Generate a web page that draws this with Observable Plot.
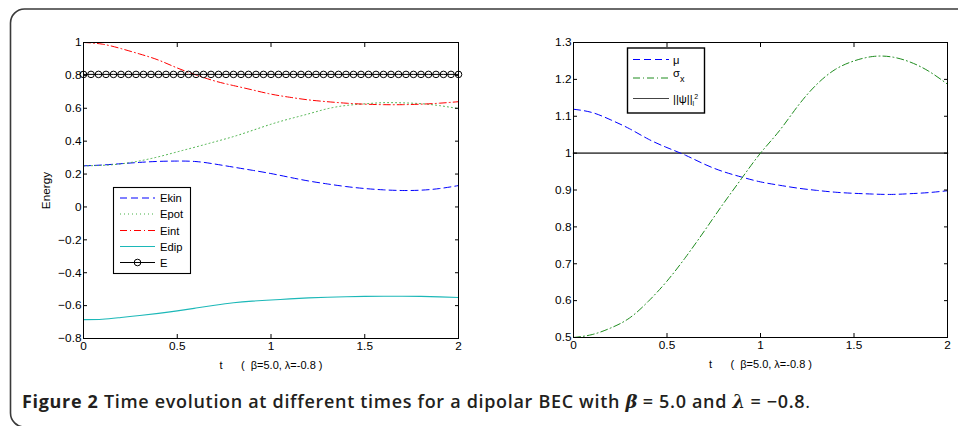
<!DOCTYPE html>
<html><head><meta charset="utf-8">
<script src="https://cdn.jsdelivr.net/npm/d3@7"></script>
<script src="https://cdn.jsdelivr.net/npm/@observablehq/plot@0.6"></script>
<style>
body{margin:0;background:#fff;}
#wrap{position:relative;width:958px;height:426px;overflow:hidden;background:#fff;}
#border{position:absolute;left:0;top:0;}
.panel{position:absolute;top:0;}
#caption{position:absolute;left:22px;top:389px;font-family:"Open Sans",sans-serif;font-size:18px;letter-spacing:0.68px;font-weight:600;color:#231f20;white-space:nowrap;line-height:normal;}
#caption b{font-weight:700;}
#caption i{font-family:"DejaVu Serif",serif;font-style:italic;font-weight:600;letter-spacing:0;}
</style></head><body>
<div id="wrap">
<svg id="border" width="958" height="426"><rect x="10.5" y="9" width="1000" height="418" rx="14" ry="14" fill="none" stroke="#3a3a3a" stroke-width="1.6"/></svg>
<div id="left" class="panel" style="left:0px"></div>
<div id="right" class="panel" style="left:480px"></div>
<div id="caption"><b>Figure 2</b> Time evolution at different times for a dipolar BEC with <i>β</i> = 5.0 and <i>λ</i> = −0.8<span style="font-weight:400">.</span></div>
</div>
<script>
// ---------- data ----------
const t     = [0,0.1,0.2,0.3,0.4,0.5,0.6,0.7,0.8,0.9,1.0,1.1,1.2,1.3,1.4,1.5,1.6,1.7,1.8,1.9,2.0];
const ekin  = [0.25,0.255,0.263,0.271,0.277,0.279,0.276,0.261,0.242,0.223,0.203,0.18,0.158,0.14,0.124,0.112,0.104,0.1,0.102,0.112,0.13];
const epot  = [0.25,0.253,0.262,0.28,0.305,0.335,0.365,0.396,0.428,0.465,0.503,0.536,0.566,0.597,0.617,0.627,0.634,0.633,0.628,0.616,0.598];
const eint  = [1.0,0.99,0.963,0.93,0.893,0.845,0.803,0.766,0.738,0.712,0.686,0.667,0.651,0.64,0.631,0.625,0.622,0.622,0.625,0.631,0.64];
const edip  = [-0.685,-0.683,-0.672,-0.66,-0.647,-0.632,-0.615,-0.598,-0.583,-0.573,-0.566,-0.559,-0.553,-0.549,-0.546,-0.544,-0.543,-0.543,-0.544,-0.547,-0.551];
const tE    = [0,0.04,0.08,0.12,0.16,0.2,0.24,0.28,0.32,0.36,0.4,0.44,0.48,0.52,0.56,0.6,0.64,0.68,0.72,0.76,0.8,0.84,0.88,0.92,0.96,1.0,1.04,1.08,1.12,1.16,1.2,1.24,1.28,1.32,1.36,1.4,1.44,1.48,1.52,1.56,1.6,1.64,1.68,1.72,1.76,1.8,1.84,1.88,1.92,1.96,2.0];
const eTot  = [0.806,0.806,0.806,0.806,0.806,0.806,0.806,0.806,0.806,0.806,0.806,0.806,0.806,0.806,0.806,0.806,0.806,0.806,0.806,0.806,0.806,0.806,0.806,0.806,0.806,0.806,0.806,0.806,0.806,0.806,0.806,0.806,0.806,0.806,0.806,0.806,0.806,0.806,0.806,0.806,0.806,0.806,0.806,0.806,0.806,0.806,0.806,0.806,0.806,0.806,0.806];
const mu    = [1.119,1.11,1.09,1.066,1.038,1.015,0.994,0.97,0.95,0.935,0.922,0.913,0.905,0.899,0.894,0.891,0.889,0.888,0.89,0.893,0.898];
const sigx  = [0.5,0.508,0.526,0.553,0.598,0.653,0.718,0.789,0.862,0.932,1.0,1.06,1.128,1.186,1.227,1.25,1.262,1.261,1.247,1.222,1.187];
const norm  = [1,1,1,1,1,1,1,1,1,1,1,1,1,1,1,1,1,1,1,1,1];
const xTicks  = [0,0.5,1,1.5,2];
const yTicksL = [-0.8,-0.6,-0.4,-0.2,0,0.2,0.4,0.6,0.8,1];
const yTicksR = [0.5,0.6,0.7,0.8,0.9,1,1.1,1.2,1.3];
const xLabel = "t\u00a0\u00a0\u00a0\u00a0\u00a0\u00a0(\u00a0\u00a0β=5.0, λ=-0.8 )";
const legendL = ["Ekin","Epot","Eint","Edip","E"];

const rows  = t.map((v,i)=>({t:v, ekin:ekin[i], epot:epot[i], eint:eint[i], edip:edip[i], mu:mu[i], sigx:sigx[i], norm:norm[i]}));
const eRows = tE.map((v,i)=>({t:v, e:eTot[i]}));
const fmt = d3.format("~g");
const font = "'Liberation Sans', Arial, Helvetica, sans-serif";

function axes(yTicks, yLabel){
  return [
    Plot.frame({stroke:"black", strokeWidth:1}),
    Plot.axisX(xTicks, {anchor:"bottom", tickSize:-4, tickPadding:7, tickFormat:fmt, label:null, fontSize:11.8}),
    Plot.axisX([], {anchor:"bottom", tickSize:0, label:xLabel, labelAnchor:"center", labelArrow:"none", labelOffset:30, fontSize:11}),
    Plot.axisX(xTicks, {anchor:"top", tickSize:-4, tickFormat:()=>"", label:null}),
    Plot.axisY(yTicks, {anchor:"left", tickSize:-4, tickPadding:6, tickFormat:fmt, label:yLabel, labelAnchor:"center", labelArrow:"none", labelOffset:42, fontSize:11.8}),
    Plot.axisY(yTicks, {anchor:"right", tickSize:-4, tickFormat:()=>"", label:null})
  ];
}

const left = Plot.plot({
  width:480, height:380, marginLeft:83, marginRight:22, marginTop:42, marginBottom:42,
  style:{fontFamily:font, fontSize:"11px", color:"#000", background:"transparent", overflow:"visible"},
  x:{domain:[0,2]}, y:{domain:[-0.8,1]},
  marks:[
    Plot.line(rows, {x:"t", y:"edip", stroke:"#1cb8b8", strokeWidth:1.1, curve:"natural"}),
    Plot.line(rows, {x:"t", y:"ekin", stroke:"#0000ff", strokeWidth:1, strokeDasharray:"7,4", curve:"natural"}),
    Plot.line(rows, {x:"t", y:"epot", stroke:"#44b044", strokeWidth:1, strokeDasharray:"1,3", curve:"natural"}),
    Plot.line(rows, {x:"t", y:"eint", stroke:"#ff0000", strokeWidth:1, strokeDasharray:"7,3,1,3", curve:"natural"}),
    Plot.line(eRows, {x:"t", y:"e", stroke:"black", strokeWidth:1}),
    Plot.dot(eRows, {x:"t", y:"e", r:3.3, stroke:"black", fill:"none", strokeWidth:1}),
    ...axes(yTicksL, "Energy")
  ]
});
document.getElementById("left").appendChild(left);

const right = Plot.plot({
  width:478, height:380, marginLeft:93, marginRight:11, marginTop:42, marginBottom:43,
  style:{fontFamily:font, fontSize:"11px", color:"#000", background:"transparent", overflow:"visible"},
  x:{domain:[0,2]}, y:{domain:[0.5,1.3]},
  marks:[
    Plot.line(rows, {x:"t", y:"norm", stroke:"#555", strokeWidth:1.6}),
    Plot.line(rows, {x:"t", y:"mu", stroke:"#0000ff", strokeWidth:1, strokeDasharray:"7,4", curve:"natural"}),
    Plot.line(rows, {x:"t", y:"sigx", stroke:"#1e8c1e", strokeWidth:1, strokeDasharray:"7,3,1,3", curve:"natural"}),
    ...axes(yTicksR, null)
  ]
});
document.getElementById("right").appendChild(right);

// ---------- legends ----------
function legendBox(svgNode, box, entries){
  const g = d3.select(svgNode).append("g").attr("font-family", font).attr("font-size", 11.2).attr("text-anchor", "start");
  g.append("rect").attr("x", box.x).attr("y", box.y).attr("width", box.w).attr("height", box.h)
    .attr("fill", "white").attr("stroke", "black").attr("stroke-width", box.sw || 1.1);
  entries.forEach(e => {
    g.append("line").attr("x1", box.lx1).attr("x2", box.lx2).attr("y1", e.y).attr("y2", e.y)
      .attr("stroke", e.stroke).attr("stroke-width", e.w || 1).attr("stroke-dasharray", e.dash || null);
    if (e.marker) g.append("circle").attr("cx", (box.lx1+box.lx2)/2).attr("cy", e.y).attr("r", 3.3)
      .attr("fill", "none").attr("stroke", "black");
    const tx = g.append("text").attr("x", box.tx).attr("y", e.y + 4).attr("fill", "#000").attr("text-anchor", "start");
    e.text(tx);
  });
}
const leftStyles = [
  {stroke:"#0000ff", dash:"7,4"},
  {stroke:"#44b044", dash:"1,3"},
  {stroke:"#ff0000", dash:"7,3,1,3"},
  {stroke:"#1cb8b8", w:1.1},
  {stroke:"black", marker:true}
];
const leftY = [198, 214, 230.5, 246.5, 262.5];
legendBox(left, {x:113.5, y:187.5, w:77, h:86, lx1:120, lx2:155, tx:160},
  legendL.map((name,i)=>({...leftStyles[i], y:leftY[i], text: s => s.text(name)})));

legendBox(right, {x:147.5, y:48, w:77, h:65, lx1:153, lx2:189, tx:193, sw:1.4}, [
  {stroke:"#0000ff", dash:"7,4", y:59.5, text: s => s.text("μ")},
  {stroke:"#1e8c1e", dash:"7,3,1,3", y:78, text: s => { s.attr("y", 77); s.append("tspan").text("σ"); s.append("tspan").attr("dy", 5).attr("font-size", 9).text("x"); }},
  {stroke:"#444", w:1.2, y:98.5, text: s => { s.append("tspan").text("||ψ||"); s.append("tspan").attr("dy", 3).attr("font-size", 7).text("l"); s.append("tspan").attr("dy", -7).attr("font-size", 7).text("2"); }}
]);
</script>
</body></html>
